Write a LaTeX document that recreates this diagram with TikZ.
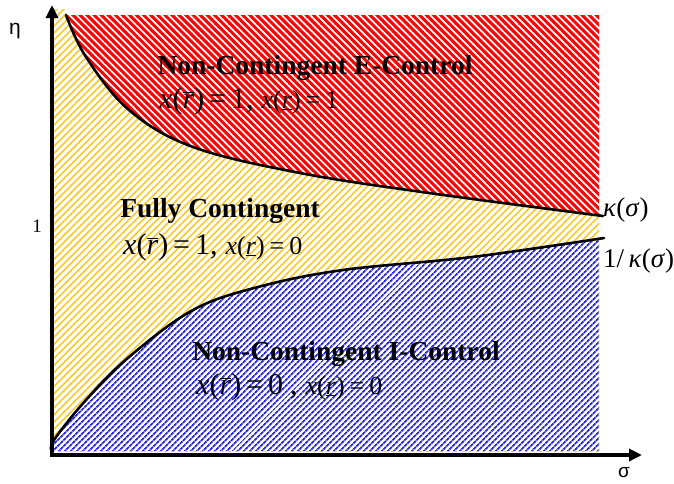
\documentclass[tikz,border=0pt]{standalone}
\usepackage{fontspec}
\setmainfont{Liberation Serif}
\newfontfamily\sansf{Liberation Sans}
\usetikzlibrary{patterns.meta,arrows.meta}
\definecolor{gold}{RGB}{250,200,40}
\definecolor{hblue}{RGB}{40,40,225}
\tikzset{
  curve/.style={line width=2.6pt,line cap=round},
  axis/.style={line width=3.6pt,-{Triangle[length=13pt,width=12pt]}},
  title/.style={font=\fontsize{27.5}{27.5}\selectfont\bfseries,inner sep=0pt},
  eq/.style={inner sep=0pt,anchor=west},
  side/.style={inner sep=0pt,anchor=west,font=\fontsize{27}{27}\selectfont},
}
\newcommand{\rbar}{$\overline{\mbox{\textit{r}}}$}
\newcommand{\myeq}{\hspace{5pt}=\hspace{5pt}}
\newcommand{\bigpart}[2]{{\fontsize{30}{30}\selectfont\textit{x}(\rbar)\myeq#1#2}}
\newcommand{\smallpart}[1]{{\fontsize{26}{26}\selectfont\textit{x}(\underline{\textit{r}})\myeq#1}}
\begin{document}
\begin{tikzpicture}[x=1pt,y=-1pt]
\useasboundingbox (0,0) rectangle (674,483);
% yellow background region
\path[fill=white,postaction={pattern={Lines[angle=45,distance=5pt,line width=1.6pt]},pattern color=gold}]
  (52,15) rectangle (599,451);
\path[fill=white,postaction={pattern={Lines[angle=45,distance=5pt,line width=1.6pt]},pattern color=gold}]
  (52,9) rectangle (66,15);
% red region
\path[fill=red,postaction={pattern={Lines[angle=-45,distance=5pt,line width=1.7pt]},pattern color=white}]
  plot[smooth,tension=0.6] coordinates {(66,15) (86,57) (129,110) (193,147) (300,173) (429,193) (599,216)}
  -- (599,15) -- cycle;
% blue region
\path[fill=white,postaction={pattern={Lines[angle=45,distance=4pt,line width=1.9pt]},pattern color=hblue}]
  plot[smooth,tension=0.6] coordinates {(52,451) (54,440) (86,400) (129,357) (193,310) (258,287) (343,270) (472,257) (599,239)}
  -- (599,451) -- cycle;
% boundary curves
\draw[curve] plot[smooth,tension=0.6] coordinates {(66,15) (86,57) (129,110) (193,147) (300,173) (429,193) (603,216)};
\draw[curve] plot[smooth,tension=0.6] coordinates {(52,451) (54,440) (86,400) (129,357) (193,310) (258,287) (343,270) (472,257) (604,238)};
% axes
\coordinate (O) at (52,455);
\coordinate (Ytip) at (52,5);
\coordinate (Xtip) at (642,455);
\draw[axis] ([yshift=-2pt]O) -- (Ytip);
\draw[axis] ([xshift=-2pt]O) -- (Xtip);
% labels
\node[title] (ect) at (315,68) {Non-Contingent E-Control};
\node[eq] (em) at (159,101) {\bigpart{1}{,}\hspace{8pt}\smallpart{1}};
\node[title] (fct) at (220,211) {Fully Contingent};
\node[eq] (fm) at (123,247) {\bigpart{1}{,}\hspace{8pt}\smallpart{0}};
\node[title] (ict) at (346,354) {Non-Contingent I-Control};
\node[eq] (im) at (196,387) {\bigpart{0}{\hspace{7pt},}\hspace{8pt}\smallpart{0}};
\node[side] (k) at (603,210) {\textit{κ}(\textit{σ})};
\node[side] (ik) at (603,261) {1/\,\textit{κ}(\textit{σ})};
\node[font=\sansf\fontsize{21}{21}\selectfont] (eta) at (15,31) {η};
\node[font=\fontsize{19}{19}\selectfont] (one) at (37,226) {1};
\node[font=\sansf\fontsize{19}{19}\selectfont] (sig) at (624,473) {σ};
\end{tikzpicture}
\end{document}
